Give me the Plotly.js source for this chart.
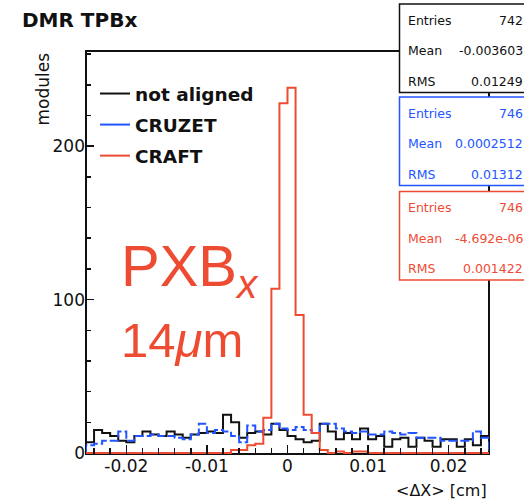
<!DOCTYPE html>
<html>
<head>
<meta charset="utf-8">
<script src="https://cdn.plot.ly/plotly-3.0.1.min.js"></script>
<style>
  html, body { margin: 0; padding: 0; background: #fff; }
  #chart { width: 524px; height: 500px; }
</style>
</head>
<body>
<div id="chart"></div>
<script>
// DMR distribution of the barrel pixel modules, 50 bins of 0.001 cm from -0.025 to 0.025
const binLow = -0.025;
const binWidth = 0.001;

const seriesNames = ['not aligned', 'CRUZET', 'CRAFT'];
const seriesColors = ['#111111', '#2255ff', '#ee4b33'];

const notAligned = [7, 15, 13, 11, 8, 7, 11, 14, 12, 11, 14, 12, 10, 12, 13, 14, 13, 25, 20, 10,
                    13, 14, 12, 19, 15, 11, 9, 7, 8, 19, 14, 9, 13, 9, 16, 9, 11, 4, 9, 10,
                    4, 10, 8, 4, 9, 9, 4, 9, 5, 11];
const cruzet = [5, 6, 8, 8, 14, 8, 11, 11, 12, 11, 11, 10, 9, 12, 19, 13, 15, 14, 11, 7,
                18, 14, 15, 19, 16, 15, 17, 15, 13, 19, 19, 16, 14, 13, 14, 12, 12, 14, 13, 12,
                13, 10, 10, 10, 8, 8, 8, 8, 14, 10];
const craft = [0, 0, 0, 0, 0, 0, 0, 0, 0, 0, 0, 0, 0, 0, 0, 0, 0, 0, 2, 2,
               5, 6, 23, 107, 228, 238, 90, 25, 13, 2, 0, 1, 0, 1, 1, 0, 0, 0, 0, 0,
               0, 0, 0, 0, 0, 0, 0, 0, 0, 0];

// statistics boxes
const statLabels = ['Entries', 'Mean', 'RMS'];
const statsNotAligned = ['742', '-0.003603', '0.01249'];
const statsCruzet = ['746', '0.0002512', '0.01312'];
const statsCraft = ['746', '-4.692e-06', '0.001422'];

// axis ticks
const xTickVals = [-0.02, -0.01, 0, 0.01, 0.02];
const xTickText = ['-0.02', '-0.01', '0', '0.01', '0.02'];
const yTickVals = [0, 100, 200];
const yTickText = ['0', '100', '200'];

// outline of a histogram as a step line, closed down to zero at both ends
function stepOutline(counts) {
  const xs = [binLow], ys = [0];
  counts.forEach((c, i) => {
    const a = binLow + i * binWidth;
    xs.push(a, a + binWidth);
    ys.push(c, c);
  });
  xs.push(binLow + counts.length * binWidth);
  ys.push(0);
  return { xs, ys };
}

const dashes = ['solid', '9px,3px', 'solid'];
const histTraces = [notAligned, cruzet, craft].map((counts, i) => {
  const o = stepOutline(counts);
  return {
    type: 'scatter', mode: 'lines', x: o.xs, y: o.ys,
    name: seriesNames[i], showlegend: false,
    line: { color: seriesColors[i], width: 2, dash: dashes[i], shape: 'linear' },
    hoverinfo: 'skip'
  };
});
// legend entries are drawn with plain solid lines
const legendTraces = seriesNames.map((name, i) => ({
  type: 'scatter', mode: 'lines', x: [null], y: [null],
  name: name, legendgroup: 'g' + i, showlegend: true,
  line: { color: seriesColors[i], width: 2 }, hoverinfo: 'skip'
}));

// plot area in pixels: x 86..489, y 51..454
const L = 86, T = 51, W = 403, H = 403;
const px = X => (X - L) / W;
const py = Y => (T + H - Y) / H;

// frame around the plot area, under the histograms
const shapes = [{
  type: 'rect', xref: 'paper', yref: 'paper', x0: 0, x1: 1, y0: 0, y1: 1,
  line: { color: '#111', width: 2 }, fillcolor: 'rgba(0,0,0,0)', layer: 'below'
}];
const annotations = [];
const boxTops = [4, 97, 191.5];
const boxH = 88.5;
[statsNotAligned, statsCruzet, statsCraft].forEach((vals, b) => {
  const top = boxTops[b];
  shapes.push({
    type: 'rect', xref: 'paper', yref: 'paper',
    x0: px(399.5), x1: px(540), y0: py(top), y1: py(top + boxH),
    line: { color: seriesColors[b], width: 1.5 }, fillcolor: '#ffffff', layer: 'above'
  });
  const rows = [16, 46.5, 77];
  statLabels.forEach((lab, r) => {
    annotations.push({
      xref: 'paper', yref: 'paper', x: px(406), y: py(top + rows[r]),
      xanchor: 'left', yanchor: 'middle', showarrow: false, text: lab,
      font: { family: 'DejaVu Sans', size: 12.5, color: seriesColors[b] }
    });
    annotations.push({
      xref: 'paper', yref: 'paper', x: px(524.5), y: py(top + rows[r]),
      xanchor: 'right', yanchor: 'middle', showarrow: false, text: vals[r],
      font: { family: 'DejaVu Sans', size: 12.5, color: seriesColors[b] }
    });
  });
});

// axis titles
annotations.push({
  xref: 'paper', yref: 'paper', x: px(42), y: 1, xanchor: 'center', yanchor: 'top',
  textangle: -90, showarrow: false, text: 'modules',
  font: { family: 'DejaVu Sans', size: 17, color: '#111' }
});
annotations.push({
  xref: 'paper', yref: 'paper', x: px(489), y: py(490), xanchor: 'right', yanchor: 'middle',
  showarrow: false, text: '&lt;ΔX&gt; [cm]',
  font: { family: 'DejaVu Sans', size: 16, color: '#111' }
});

// large in-plot label
annotations.push({
  xref: 'paper', yref: 'paper', x: px(119), y: py(270), xanchor: 'left', yanchor: 'middle',
  showarrow: false, text: 'PXB<sub><i>x</i></sub>',
  font: { family: 'Liberation Sans', size: 58, color: seriesColors[2] }
});
annotations.push({
  xref: 'paper', yref: 'paper', x: px(119), y: py(340), xanchor: 'left', yanchor: 'middle',
  showarrow: false, text: '14<i>μ</i>m',
  font: { family: 'Liberation Sans', size: 49, color: seriesColors[2] }
});

const layout = {
  width: 524, height: 500,
  margin: { l: L, r: 524 - L - W, t: T, b: 500 - T - H, pad: 0 },
  paper_bgcolor: '#ffffff', plot_bgcolor: '#ffffff',
  showlegend: true,
  title: {
    text: 'DMR TPBx', xref: 'container', yref: 'container',
    x: 22 / 524, xanchor: 'left', y: 1 - 20 / 500, yanchor: 'middle',
    font: { family: 'DejaVu Sans', size: 20, weight: 'bold', color: '#111' }
  },
  legend: {
    x: px(95), y: py(75), xanchor: 'left', yanchor: 'top',
    bgcolor: 'rgba(0,0,0,0)', borderwidth: 0,
    traceorder: 'grouped', tracegroupgap: 4,
    font: { family: 'DejaVu Sans', size: 18.5, weight: 'bold', color: '#111' }
  },
  xaxis: {
    range: [binLow, binLow + 50 * binWidth],
    tickmode: 'array', tickvals: xTickVals, ticktext: xTickText,
    ticks: 'inside', ticklen: 9, tickwidth: 1.5, tickcolor: '#111',
    minor: { dtick: 0.002, tick0: 0, ticks: 'inside', ticklen: 6, tickwidth: 1.5, tickcolor: '#111', showgrid: false },
    showline: false, showgrid: false, zeroline: false,
    tickfont: { family: 'DejaVu Sans', size: 17, color: '#111' }
  },
  yaxis: {
    range: [-0.65, 262],
    tickmode: 'array', tickvals: yTickVals, ticktext: yTickText,
    ticks: 'inside', ticklen: 8, tickwidth: 1.5, tickcolor: '#111',
    minor: { dtick: 20, tick0: 0, ticks: 'inside', ticklen: 5, tickwidth: 1.5, tickcolor: '#111', showgrid: false },
    showline: false, showgrid: false, zeroline: false,
    tickfont: { family: 'DejaVu Sans', size: 17, color: '#111' }
  },
  shapes: shapes,
  annotations: annotations
};

Plotly.newPlot('chart', histTraces.concat(legendTraces), layout, { staticPlot: true, displayModeBar: false });
</script>
</body>
</html>
